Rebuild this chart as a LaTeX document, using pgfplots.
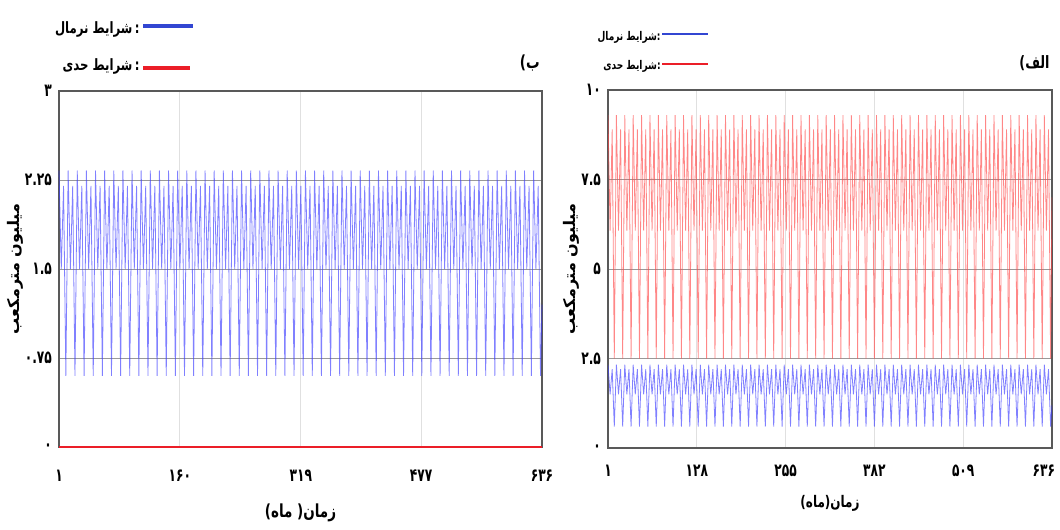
\documentclass[border=0pt]{standalone}
\usepackage{fontspec}
\usepackage{pgfplots}
\usepackage{pgfplotstable}
\pgfplotsset{compat=1.18}
\TeXXeTstate=1
\newfontfamily\fa[Script=Arabic]{DejaVu Sans}
\newfontfamily\fac[Script=Arabic,FakeStretch=0.75]{DejaVu Sans}
\newfontfamily\facc[Script=Arabic,FakeStretch=0.68]{DejaVu Sans}

\definecolor{nblue}{RGB}{60,60,255}
\definecolor{ered}{RGB}{255,70,70}
\definecolor{legblue}{RGB}{50,70,210}
\definecolor{legred}{RGB}{235,30,40}

% t  normal  extreme (monthly, one cycle per line)
\pgfplotstableread[row sep=\\]{
t n e \\
1 2.33 9.3 \\ 4 1.5 6.07 \\ 7 2.2 8.9 \\ 10 0.6 2.5 \\
13 2.33 9.3 \\ 16 1.5 6.07 \\ 19 2.2 8.9 \\ 22 0.6 2.5 \\
25 2.33 9.3 \\ 28 1.5 6.07 \\ 31 2.2 8.9 \\ 34 0.6 2.5 \\
37 2.33 9.3 \\ 40 1.5 6.07 \\ 43 2.2 8.9 \\ 46 0.6 2.5 \\
49 2.33 9.3 \\ 52 1.5 6.07 \\ 55 2.2 8.9 \\ 58 0.6 2.5 \\
61 2.33 9.3 \\ 64 1.5 6.07 \\ 67 2.2 8.9 \\ 70 0.6 2.5 \\
73 2.33 9.3 \\ 76 1.5 6.07 \\ 79 2.2 8.9 \\ 82 0.6 2.5 \\
85 2.33 9.3 \\ 88 1.5 6.07 \\ 91 2.2 8.9 \\ 94 0.6 2.5 \\
97 2.33 9.3 \\ 100 1.5 6.07 \\ 103 2.2 8.9 \\ 106 0.6 2.5 \\
109 2.33 9.3 \\ 112 1.5 6.07 \\ 115 2.2 8.9 \\ 118 0.6 2.5 \\
121 2.33 9.3 \\ 124 1.5 6.07 \\ 127 2.2 8.9 \\ 130 0.6 2.5 \\
133 2.33 9.3 \\ 136 1.5 6.07 \\ 139 2.2 8.9 \\ 142 0.6 2.5 \\
145 2.33 9.3 \\ 148 1.5 6.07 \\ 151 2.2 8.9 \\ 154 0.6 2.5 \\
157 2.33 9.3 \\ 160 1.5 6.07 \\ 163 2.2 8.9 \\ 166 0.6 2.5 \\
169 2.33 9.3 \\ 172 1.5 6.07 \\ 175 2.2 8.9 \\ 178 0.6 2.5 \\
181 2.33 9.3 \\ 184 1.5 6.07 \\ 187 2.2 8.9 \\ 190 0.6 2.5 \\
193 2.33 9.3 \\ 196 1.5 6.07 \\ 199 2.2 8.9 \\ 202 0.6 2.5 \\
205 2.33 9.3 \\ 208 1.5 6.07 \\ 211 2.2 8.9 \\ 214 0.6 2.5 \\
217 2.33 9.3 \\ 220 1.5 6.07 \\ 223 2.2 8.9 \\ 226 0.6 2.5 \\
229 2.33 9.3 \\ 232 1.5 6.07 \\ 235 2.2 8.9 \\ 238 0.6 2.5 \\
241 2.33 9.3 \\ 244 1.5 6.07 \\ 247 2.2 8.9 \\ 250 0.6 2.5 \\
253 2.33 9.3 \\ 256 1.5 6.07 \\ 259 2.2 8.9 \\ 262 0.6 2.5 \\
265 2.33 9.3 \\ 268 1.5 6.07 \\ 271 2.2 8.9 \\ 274 0.6 2.5 \\
277 2.33 9.3 \\ 280 1.5 6.07 \\ 283 2.2 8.9 \\ 286 0.6 2.5 \\
289 2.33 9.3 \\ 292 1.5 6.07 \\ 295 2.2 8.9 \\ 298 0.6 2.5 \\
301 2.33 9.3 \\ 304 1.5 6.07 \\ 307 2.2 8.9 \\ 310 0.6 2.5 \\
313 2.33 9.3 \\ 316 1.5 6.07 \\ 319 2.2 8.9 \\ 322 0.6 2.5 \\
325 2.33 9.3 \\ 328 1.5 6.07 \\ 331 2.2 8.9 \\ 334 0.6 2.5 \\
337 2.33 9.3 \\ 340 1.5 6.07 \\ 343 2.2 8.9 \\ 346 0.6 2.5 \\
349 2.33 9.3 \\ 352 1.5 6.07 \\ 355 2.2 8.9 \\ 358 0.6 2.5 \\
361 2.33 9.3 \\ 364 1.5 6.07 \\ 367 2.2 8.9 \\ 370 0.6 2.5 \\
373 2.33 9.3 \\ 376 1.5 6.07 \\ 379 2.2 8.9 \\ 382 0.6 2.5 \\
385 2.33 9.3 \\ 388 1.5 6.07 \\ 391 2.2 8.9 \\ 394 0.6 2.5 \\
397 2.33 9.3 \\ 400 1.5 6.07 \\ 403 2.2 8.9 \\ 406 0.6 2.5 \\
409 2.33 9.3 \\ 412 1.5 6.07 \\ 415 2.2 8.9 \\ 418 0.6 2.5 \\
421 2.33 9.3 \\ 424 1.5 6.07 \\ 427 2.2 8.9 \\ 430 0.6 2.5 \\
433 2.33 9.3 \\ 436 1.5 6.07 \\ 439 2.2 8.9 \\ 442 0.6 2.5 \\
445 2.33 9.3 \\ 448 1.5 6.07 \\ 451 2.2 8.9 \\ 454 0.6 2.5 \\
457 2.33 9.3 \\ 460 1.5 6.07 \\ 463 2.2 8.9 \\ 466 0.6 2.5 \\
469 2.33 9.3 \\ 472 1.5 6.07 \\ 475 2.2 8.9 \\ 478 0.6 2.5 \\
481 2.33 9.3 \\ 484 1.5 6.07 \\ 487 2.2 8.9 \\ 490 0.6 2.5 \\
493 2.33 9.3 \\ 496 1.5 6.07 \\ 499 2.2 8.9 \\ 502 0.6 2.5 \\
505 2.33 9.3 \\ 508 1.5 6.07 \\ 511 2.2 8.9 \\ 514 0.6 2.5 \\
517 2.33 9.3 \\ 520 1.5 6.07 \\ 523 2.2 8.9 \\ 526 0.6 2.5 \\
529 2.33 9.3 \\ 532 1.5 6.07 \\ 535 2.2 8.9 \\ 538 0.6 2.5 \\
541 2.33 9.3 \\ 544 1.5 6.07 \\ 547 2.2 8.9 \\ 550 0.6 2.5 \\
553 2.33 9.3 \\ 556 1.5 6.07 \\ 559 2.2 8.9 \\ 562 0.6 2.5 \\
565 2.33 9.3 \\ 568 1.5 6.07 \\ 571 2.2 8.9 \\ 574 0.6 2.5 \\
577 2.33 9.3 \\ 580 1.5 6.07 \\ 583 2.2 8.9 \\ 586 0.6 2.5 \\
589 2.33 9.3 \\ 592 1.5 6.07 \\ 595 2.2 8.9 \\ 598 0.6 2.5 \\
601 2.33 9.3 \\ 604 1.5 6.07 \\ 607 2.2 8.9 \\ 610 0.6 2.5 \\
613 2.33 9.3 \\ 616 1.5 6.07 \\ 619 2.2 8.9 \\ 622 0.6 2.5 \\
625 2.33 9.3 \\ 628 1.5 6.07 \\ 631 2.2 8.9 \\ 634 0.6 2.5 \\
636 1.2 7.0 \\
}\flows

\pgfplotsset{
  panel/.style={
    scale only axis,
    anchor=south west,
    xmin=1, xmax=636,
    axis line style={draw=black!65, line width=1pt},
    major tick length=0pt,
    xmajorgrids, ymajorgrids,
    x grid style={black!12, line width=0.5pt},
    y grid style={black!40, line width=0.4pt},
    ticklabel style={font=\facc\bfseries\fontsize{9}{10}\selectfont},
  },
  nline/.style={draw=nblue, line width=0.4pt, opacity=0.65},
  eline/.style={draw=ered, line width=0.4pt, opacity=0.65},
}

\begin{document}
\begin{tikzpicture}
\useasboundingbox (0,0) rectangle (530pt,265pt);

% panel b (left)
\begin{axis}[panel,
  at={(29.5pt,41.5pt)}, width=241.5pt, height=178pt,
  ymin=0, ymax=3, clip=false,
  xtick={1,160,319,477,636},
  xticklabels={۱,۱۶۰,۳۱۹,۴۷۷,۶۳۶},
  ytick={0,0.75,1.5,2.25,3},
  yticklabels={۰,۰.۷۵,۱.۵,۲.۲۵,۳},
  xticklabel style={yshift=-8pt},
  every axis x label/.style={at={(axis description cs:0.5,-0.185)},anchor=center,
    font=\fac\bfseries\fontsize{9}{10}\selectfont},
  every axis y label/.style={at={(axis description cs:-0.09,0.5)},rotate=90,anchor=center,
    font=\fa\bfseries\fontsize{8}{9}\selectfont},
  xlabel={\beginR زمان( ماه)\endR},
  ylabel={\beginR میلیون  مترمکعب\endR},
]
\addplot[nline] table[x=t,y=n] {\flows};
\addplot[draw=legred, line width=1.4pt] coordinates {(1,0) (636,0)};
\end{axis}

% panel alef (right)
\begin{axis}[panel,
  at={(304pt,41pt)}, width=222pt, height=179pt,
  ymin=0, ymax=10,
  xtick={1,128,255,382,509,636},
  xticklabels={۱,۱۲۸,۲۵۵,۳۸۲,۵۰۹,\makebox[0pt][r]{۶۳۶\hspace{-1.5pt}}},
  ytick={0,2.5,5,7.5,10},
  yticklabels={۰,۲.۵,۵,۷.۵,۱۰},
  xticklabel style={yshift=-5pt},
  every axis x label/.style={at={(axis description cs:0.5,-0.156)},anchor=center,
    font=\fac\bfseries\fontsize{8}{9}\selectfont},
  every axis y label/.style={at={(axis description cs:-0.082,0.5)},rotate=90,anchor=center,
    font=\fa\bfseries\fontsize{8}{9}\selectfont},
  xlabel={\beginR زمان(ماه)\endR},
  ylabel={\beginR میلیون  مترمکعب\endR},
]
\addplot[eline] table[x=t,y=e] {\flows};
\addplot[nline] table[x=t,y=n] {\flows};
\end{axis}

% legends and panel letters
\begin{scope}[font=\fac\bfseries\fontsize{7.8}{9}\selectfont]
\draw[legblue, line width=1.6pt] (71.5pt,252pt) -- (96.5pt,252pt);
\node[anchor=east, inner sep=1pt] at (71pt,250.5pt) {\beginR شرایط نرمال\endR\,:};
\draw[legred, line width=1.6pt] (71.5pt,231pt) -- (95pt,231pt);
\node[anchor=east, inner sep=1pt] at (71pt,232pt) {\beginR شرایط حدی\endR\,:};
\end{scope}
\node[anchor=east, inner sep=0pt, font=\fac\bfseries\fontsize{9}{10}\selectfont]
  at (270pt,233.5pt) {\beginR ب)\endR};
\begin{scope}[font=\fac\bfseries\fontsize{6}{7}\selectfont]
\draw[legblue, line width=1.4pt] (331pt,248pt) -- (354pt,248pt);
\node[anchor=east, inner sep=0.5pt] at (331pt,246.5pt) {\beginR شرایط نرمال\endR:};
\draw[legred, line width=1.4pt] (331pt,233pt) -- (354pt,233pt);
\node[anchor=east, inner sep=0.5pt] at (331pt,232pt) {\beginR شرایط حدی\endR:};
\end{scope}
\node[anchor=east, inner sep=0pt, font=\fac\bfseries\fontsize{8.5}{10}\selectfont]
  at (525pt,233.5pt) {\beginR الف)\endR};
\end{tikzpicture}
\end{document}
